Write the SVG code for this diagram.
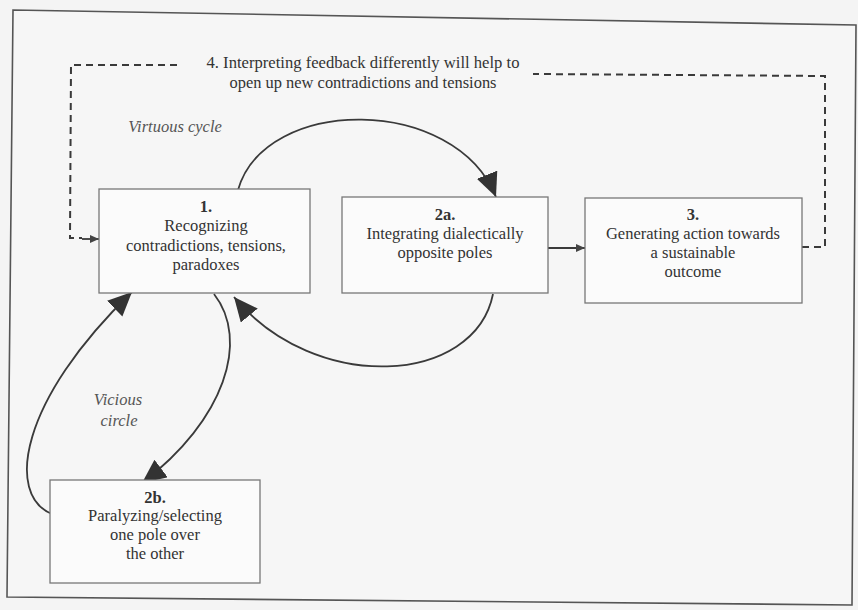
<svg xmlns="http://www.w3.org/2000/svg" width="858" height="610" viewBox="0 0 858 610">
<style>
.box{fill:#fbfbfb;stroke:#777;stroke-width:1.3}
.t{font-family:"Liberation Serif","Times New Roman",serif;font-size:16.5px;fill:#333;text-anchor:middle}
.it{font-style:italic;fill:#555}
.c{fill:none;stroke:#3a3a3a;stroke-width:1.8}
.d{fill:none;stroke:#3a3a3a;stroke-width:2;stroke-dasharray:7,5}
</style>
<defs>
<marker id="big" markerUnits="userSpaceOnUse" markerWidth="26" markerHeight="24" refX="24" refY="11" orient="auto">
<path d="M0,0 L24,11 L0,22 Z" fill="#333"/>
</marker>
<marker id="sm" markerUnits="userSpaceOnUse" markerWidth="10" markerHeight="8" refX="9" refY="4" orient="auto">
<path d="M0,0 L9,4 L0,8 Z" fill="#444"/>
</marker>
</defs>
<rect width="858" height="610" fill="#f4f4f4"/>
<path d="M13,10 L856,25 L852,605 L7,597 Z" fill="#f6f6f6" stroke="#555" stroke-width="1.6"/>

<g id="connectors">
<path class="c" d="M238,190 C265,95 455,95 496,197" marker-end="url(#big)"/>
<path class="c" d="M493,294 C475,385 315,395 234,297" marker-end="url(#big)"/>
<path class="c" d="M52,514 C5,495 20,400 132,292" marker-end="url(#big)"/>
<path class="c" d="M214,294 C250,340 225,420 142,483" marker-end="url(#big)"/>
<path class="c" d="M548,248 L585,248" marker-end="url(#sm)"/>
<path class="d" d="M802,247 L825,247 L825,76 L533,74"/>
<path class="d" d="M177,65 L71,65 L70,238 L82,238"/>
<path class="c" d="M82,239 L99,239" marker-end="url(#sm)" stroke-width="1.5"/>
</g>

<g id="label4">
<text class="t" x="363" y="68" textLength="313" lengthAdjust="spacingAndGlyphs">4. Interpreting feedback differently will help to</text>
<text class="t" x="363" y="88" textLength="267" lengthAdjust="spacingAndGlyphs">open up new contradictions and tensions</text>
</g>
<g id="label-virtuous"><text class="t it" x="175" y="132">Virtuous cycle</text></g>
<g id="label-vicious">
<text class="t it" x="118" y="405">Vicious</text>
<text class="t it" x="119" y="426">circle</text>
</g>

<g id="n1">
<rect class="box" x="99" y="189" width="211" height="104"/>
<text class="t" x="206" y="212" font-weight="bold">1.</text>
<text class="t" x="206" y="231">Recognizing</text>
<text class="t" x="206" y="251">contradictions, tensions,</text>
<text class="t" x="206" y="270">paradoxes</text>
</g>
<g id="n2a">
<rect class="box" x="342" y="197" width="206" height="96"/>
<text class="t" x="445" y="220" font-weight="bold">2a.</text>
<text class="t" x="445" y="239">Integrating dialectically</text>
<text class="t" x="445" y="258">opposite poles</text>
</g>
<g id="n3">
<rect class="box" x="585" y="198" width="217" height="105"/>
<text class="t" x="693" y="220" font-weight="bold">3.</text>
<text class="t" x="693" y="239">Generating action towards</text>
<text class="t" x="693" y="258">a sustainable</text>
<text class="t" x="693" y="277">outcome</text>
</g>
<g id="n2b">
<rect class="box" x="50" y="480" width="210" height="103"/>
<text class="t" x="155" y="503" font-weight="bold">2b.</text>
<text class="t" x="155" y="521">Paralyzing/selecting</text>
<text class="t" x="155" y="540">one pole over</text>
<text class="t" x="155" y="559">the other</text>
</g>
</svg>
